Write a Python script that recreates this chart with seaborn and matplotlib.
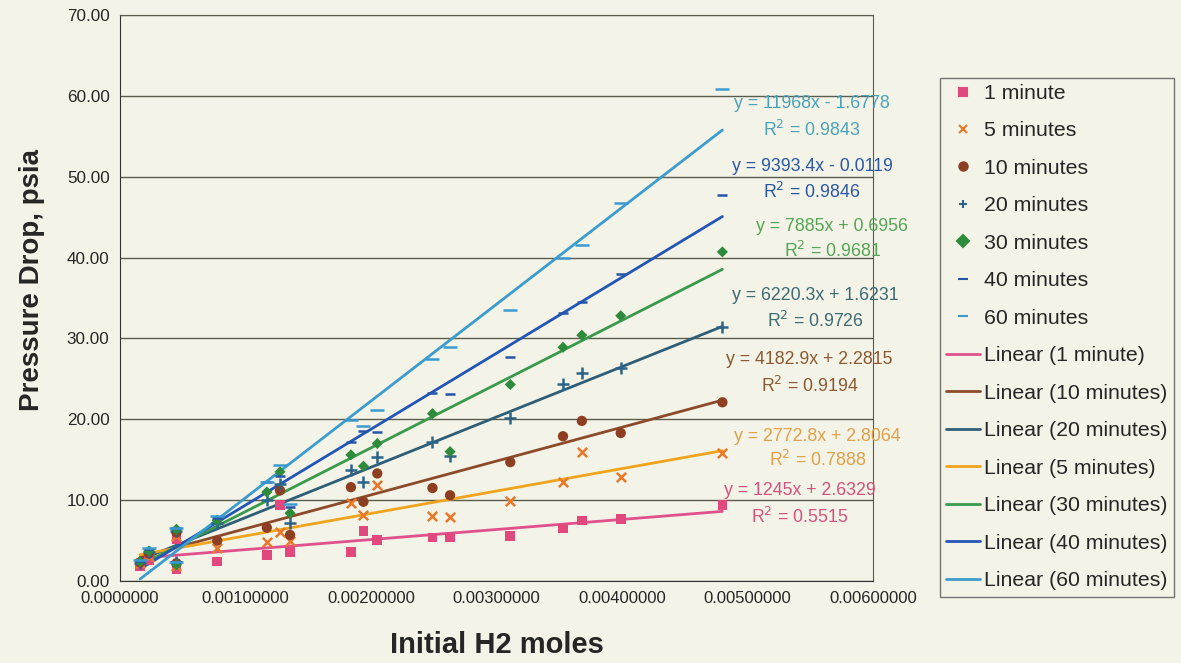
import numpy as np
import pandas as pd
import matplotlib
matplotlib.use("Agg")
from matplotlib import pyplot as plt
from matplotlib.lines import Line2D
import seaborn as sns


# initial H2 moles of each run (two runs share 0.00045)
moles = [0.000160, 0.000230, 0.000450, 0.000450, 0.000775, 0.001170, 0.001275, 0.001355, 0.001840,
         0.001940, 0.002050, 0.002490, 0.002630, 0.003110, 0.003530, 0.003680, 0.003990, 0.004800]

# pressure drop (psia) after each time
drop_1 = [1.8, 2.6, 5.2, 1.5, 2.4, 3.2, 9.4, 3.6, 3.6, 6.2, 5.1, 5.4, 5.4, 5.6, 6.5, 7.5, 7.65, 9.4]
drop_5 = [2.2, 3.0, 5.6, 1.9, 4.1, 4.8, 6.0, 5.0, 9.6, 8.1, 11.9, 8.0, 7.9, 9.9, 12.2, 15.9, 12.8, 15.8]
drop_10 = [2.3, 3.4, 6.0, 2.2, 5.0, 6.6, 11.2, 5.7, 11.6, 9.8, 13.3, 11.5, 10.6, 14.7, 17.9, 19.8, 18.3, 22.1]
drop_20 = [2.2, 3.6, 6.2, 2.4, 7.2, 10.0, 12.0, 7.2, 13.7, 12.2, 15.3, 17.2, 15.5, 20.2, 24.4, 25.7, 26.3, 31.4]
drop_30 = [2.4, 3.7, 6.4, 2.0, 7.5, 11.0, 13.5, 8.4, 15.6, 14.2, 17.0, 20.7, 16.0, 24.3, 28.9, 30.4, 32.8, 40.7]
drop_40 = [2.5, 3.9, 6.5, 2.3, 7.8, 12.2, 13.0, 9.1, 17.2, 18.6, 18.4, 23.3, 23.1, 27.7, 33.1, 34.5, 38.0, 47.7]
drop_60 = [2.6, 4.1, 6.6, 2.4, 8.0, 12.3, 14.3, 9.5, 19.9, 19.2, 21.1, 27.5, 28.9, 33.5, 39.9, 41.6, 46.7, 60.9]

names = ["1 minute", "5 minutes", "10 minutes", "20 minutes", "30 minutes", "40 minutes", "60 minutes"]
drops = [drop_1, drop_5, drop_10, drop_20, drop_30, drop_40, drop_60]

# excel trendline results
slopes = [1245, 2772.8, 4182.9, 6220.3, 7885, 9393.4, 11968]
intercepts = [2.6329, 2.8064, 2.2815, 1.6231, 0.6956, -0.0119, -1.6778]
r_squared = [0.5515, 0.7888, 0.9194, 0.9726, 0.9681, 0.9846, 0.9843]

x_ticks = [0, 0.001, 0.002, 0.003, 0.004, 0.005, 0.006]
x_tick_labels = ["0.0000000", "0.00100000", "0.00200000", "0.00300000",
                 "0.00400000", "0.00500000", "0.00600000"]
y_ticks = [0, 10, 20, 30, 40, 50, 60, 70]

# styles (series order)
marker_colors = ["#e0487e", "#e8782a", "#8e3f22", "#2b6488", "#2e8b3c", "#2455a8", "#3a9ad0"]
markers = ["s", "x", "o", "+", "D", "_", "_"]
marker_sizes = [48, 45, 55, 65, 32, 55, 110]
line_colors = ["#e0508c", "#f0a41e", "#8c4a2a", "#2e5e78", "#3a9a4c", "#2356b4", "#3c9ccc"]
line_order = [0, 2, 3, 1, 4, 5, 6]   # excel legend order for the trendlines
text_colors = ["#d4527e", "#e2a048", "#8a5a32", "#3e6a72", "#56a456", "#2a58a4", "#4aa2ba"]
# label centres in axes fractions: (x, equation y, R2 y)
label_pos = [(0.903, 0.159, 0.113), (0.926, 0.256, 0.214), (0.916, 0.392, 0.345),
             (0.923, 0.505, 0.459), (0.946, 0.627, 0.583), (0.919, 0.733, 0.687),
             (0.919, 0.843, 0.797)]

bg = "#f3f3e8"
sns.set_style("white")
plt.rcParams["font.family"] = ["Liberation Sans", "DejaVu Sans"]

fig = plt.figure(figsize=(11.81, 6.63), dpi=100, facecolor=bg)
ax = fig.add_axes([0.1016, 0.1237, 0.6376, 0.8537])
ax.set_facecolor(bg)

df = pd.DataFrame({"moles": moles})
for i, name in enumerate(names):
    df[name] = drops[i]

# trendlines
x_fit = np.array([min(moles), max(moles)])
for i in line_order:
    sns.lineplot(x=x_fit, y=slopes[i] * x_fit + intercepts[i], color=line_colors[i],
                 linewidth=2, ax=ax, zorder=3)

# data points
for i, name in enumerate(names):
    kw = dict(edgecolor="none") if markers[i] in ("s", "o", "D") else dict(linewidth=1.8)
    sns.scatterplot(data=df, x="moles", y=name, marker=markers[i], s=marker_sizes[i],
                    color=marker_colors[i], ax=ax, zorder=4, **kw)

# trendline labels
for i in range(len(names)):
    sign = "+" if intercepts[i] >= 0 else "-"
    eq = "y = {:g}x {} {:.4f}".format(slopes[i], sign, abs(intercepts[i]))
    px, ey, ry = label_pos[i]
    ax.text(px, ey, eq, transform=ax.transAxes, ha="center", va="center",
            color=text_colors[i], fontsize=12.8, zorder=5, clip_on=False)
    ax.text(px, ry, "R$^2$ = {:.4f}".format(r_squared[i]), transform=ax.transAxes,
            ha="center", va="center", color=text_colors[i], fontsize=12.8, zorder=5, clip_on=False)

ax.set_xlim(0, 0.006)
ax.set_ylim(0, 70)
ax.set_xticks(x_ticks)
ax.set_xticklabels(x_tick_labels, fontsize=12)
ax.set_yticks(y_ticks)
ax.set_yticklabels(["{:.2f}".format(v) for v in y_ticks], fontsize=12.3)
ax.tick_params(direction="inout", length=7, width=1, color="#333333", pad=4)
ax.grid(axis="y", color="#5a5c4c", linewidth=1)
for side in ["left", "bottom"]:
    ax.spines[side].set_color("#333333")
for side in ["top", "right"]:
    ax.spines[side].set_visible(True)
    ax.spines[side].set_color("#5a5c4c")
ax.set_xlabel("Initial H2 moles", fontsize=21, fontweight="bold")
ax.xaxis.set_label_coords(0.5, -0.088)
ax.set_ylabel("Pressure Drop, psia", fontsize=20, fontweight="bold")
ax.yaxis.set_label_coords(-0.1, 0.532)

# legend: markers first, then trendlines
handles = []
labels = []
for i, name in enumerate(names):
    handles.append(Line2D([], [], linestyle="none", marker=markers[i], color=marker_colors[i],
                          markersize=6 if markers[i] != "_" else 7, markeredgewidth=1.5))
    labels.append(name)
for i in line_order:
    handles.append(Line2D([], [], color=line_colors[i], linewidth=2))
    labels.append("Linear ({})".format(names[i]))
leg = fig.legend(handles, labels, loc="upper left", bbox_to_anchor=(0.796, 0.883),
                 frameon=True, fancybox=False, fontsize=15.3, labelspacing=0.87,
                 handlelength=1.6, handletextpad=0.15, borderpad=0.3, borderaxespad=0)
leg.get_frame().set_facecolor(bg)
leg.get_frame().set_edgecolor("#555555")
leg.get_frame().set_linewidth(1)

fig.savefig("out.png", dpi=100, facecolor=bg)
